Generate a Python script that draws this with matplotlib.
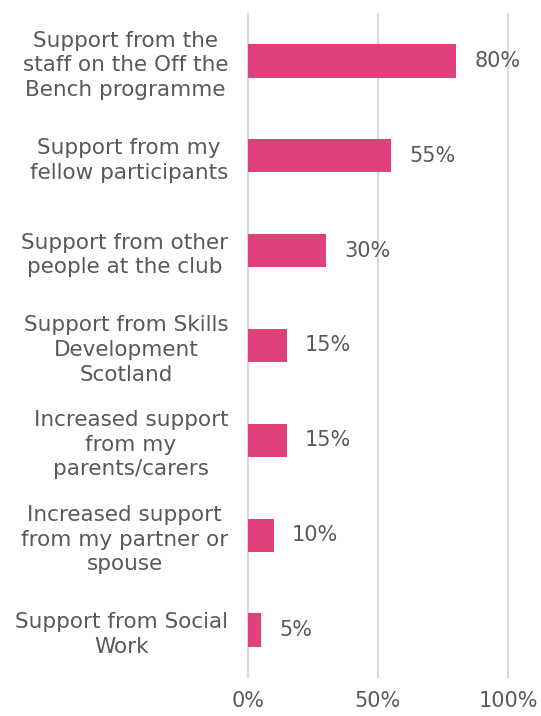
import matplotlib
matplotlib.use("Agg")
import matplotlib.pyplot as plt

# categories, top to bottom
labels = [
    "Support from the\nstaff on the Off the\nBench programme",
    "Support from my\nfellow participants",
    "Support from other\npeople at the club",
    "Support from Skills\nDevelopment\nScotland",
    "Increased support\nfrom my\nparents/carers",
    "Increased support\nfrom my partner or\nspouse",
    "Support from Social\nWork",
]
values = [80, 55, 30, 15, 15, 10, 5]
ticks = [0, 50, 100]

grey = "#595959"
pink = "#E0407B"

fig = plt.figure(figsize=(5.41, 7.16), dpi=100)
ax = fig.add_axes([0.458, 0.054, 0.481, 0.927])

pos = list(range(len(values)))
ax.barh(pos, values, height=0.35, color=pink, zorder=3)
for p, v in zip(pos, values):
    ax.text(v + 7, p, f"{v}%", va="center", ha="left", fontsize=15, color=grey, zorder=4)

ax.set_ylim(len(values) - 0.5, -0.5)
ax.set_xlim(0, 100)
ax.set_yticks(pos)
ax.set_yticklabels(labels, fontsize=15.5, color=grey, multialignment="center", linespacing=1.3)
ax.set_xticks(ticks)
ax.set_xticklabels([f"{t}%" for t in ticks], fontsize=15, color=grey)
ax.tick_params(axis="y", length=0, pad=14)
ax.tick_params(axis="x", length=0, pad=10)
ax.grid(axis="x", color="#D9D9D9", linewidth=1.5, zorder=0)
for g in ax.get_xgridlines():
    g.set_clip_on(False)
for s in ax.spines.values():
    s.set_visible(False)

fig.savefig("out.png", dpi=100)
